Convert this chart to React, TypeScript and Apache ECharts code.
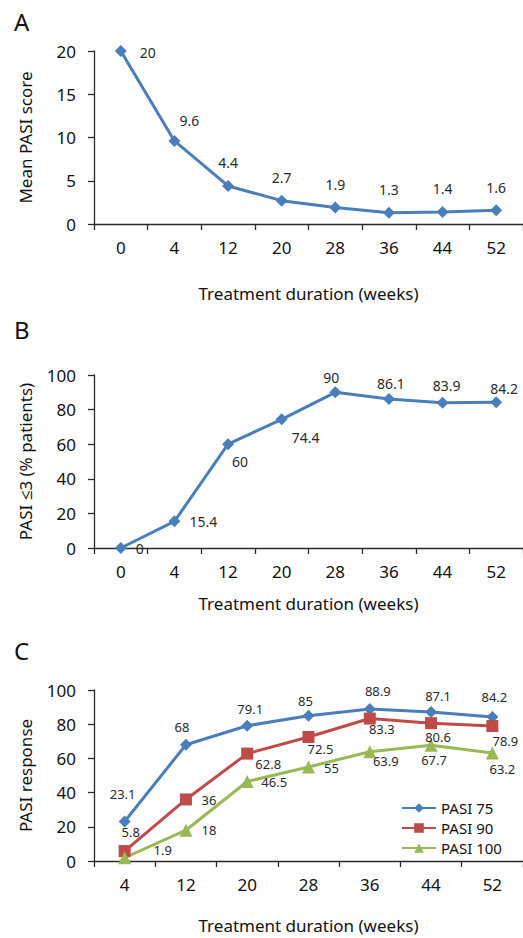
import React, { useEffect, useRef } from "react";
import * as echarts from "echarts";

const weeksAB = ["0", "4", "12", "20", "28", "36", "44", "52"];
const meanPasi = [20, 9.6, 4.4, 2.7, 1.9, 1.3, 1.4, 1.6];
const pasiLe3 = [0, 15.4, 60, 74.4, 90, 86.1, 83.9, 84.2];
const weeksC = ["4", "12", "20", "28", "36", "44", "52"];
const pasi75 = [23.1, 68, 79.1, 85, 88.9, 87.1, 84.2];
const pasi90 = [5.8, 36, 62.8, 72.5, 83.3, 80.6, 78.9];
const pasi100 = [1.9, 18, 46.5, 55, 63.9, 67.7, 63.2];

// label centre offsets from each point (px)
const offA = [[27, 1], [15, -20], [0, -23], [0, -23], [0, -23], [0, -23], [0, -23], [0, -23]];
const offB = [[19, 0], [29, 0], [12, 17], [24, 18], [-4, -15], [2, -16], [4, -17], [8, -14]];
const off75 = [[-2, -27], [-4, -18], [3, -17], [-3, -15], [8, -18], [7, -16], [2, -20]];
const off90 = [[6, -19], [23, 1], [21, 10], [12, 12], [12, 10], [7, 14], [13, 15]];
const off100 = [[38, -8], [23, 0], [27, 1], [23, 1], [16, 9], [3, 15], [10, 16]];

const FONT = "'Noto Sans', 'Open Sans', sans-serif";
const BLUE = "#4A7EBB";
const RED = "#BE4B48";
const GREEN = "#98B954";
const AXIS = "#2a2a2a";
const TEXT = "#111";

function mkData(vals: number[], offs: number[][]) {
  return vals.map((v, i) => ({ value: v, label: { offset: offs[i] } }));
}

function xAx(gi: number, cats: string[], nameGap: number) {
  return {
    type: "category",
    gridIndex: gi,
    data: cats,
    boundaryGap: true,
    axisLine: { lineStyle: { color: AXIS, width: 1.3 } },
    axisTick: { show: true, length: 6, lineStyle: { color: AXIS, width: 1.3 } },
    axisLabel: { interval: 0, margin: 15, fontSize: 17, color: TEXT, fontFamily: FONT },
    name: "Treatment duration (weeks)",
    nameLocation: "middle",
    nameGap,
    nameTextStyle: { fontSize: 17, color: TEXT, fontFamily: FONT },
  };
}

function yAx(gi: number, max: number, interval: number, name: string) {
  return {
    type: "value",
    gridIndex: gi,
    min: 0,
    max,
    interval,
    splitLine: { show: false },
    axisLine: { show: true, lineStyle: { color: AXIS, width: 1.3 } },
    axisTick: { show: true, length: 6, lineStyle: { color: AXIS, width: 1.3 } },
    axisLabel: { margin: 18, fontSize: 17, color: TEXT, fontFamily: FONT },
    name,
    nameLocation: "middle",
    nameGap: 60,
    nameTextStyle: { fontSize: 17, color: TEXT, fontFamily: FONT },
  };
}

function lineSeries(
  name: string,
  xi: number,
  data: any[],
  color: string,
  symbol: string,
  symbolSize: number,
  labelSize: number
) {
  return {
    type: "line",
    name,
    xAxisIndex: xi,
    yAxisIndex: xi,
    data,
    color,
    symbol,
    symbolSize,
    lineStyle: { color, width: 3 },
    itemStyle: { color },
    label: {
      show: true,
      position: "inside",
      color: "#2a2a2a",
      fontSize: labelSize,
      fontFamily: FONT,
    },
  };
}

export default function App() {
  const ref = useRef<HTMLDivElement>(null);
  useEffect(() => {
    document.body.style.margin = "0";
    const chart = echarts.init(ref.current!, null, { renderer: "svg" });
    chart.setOption({
      animation: false,
      backgroundColor: "#fff",
      textStyle: { fontFamily: FONT },
      grid: [
        { left: 94, right: -9, top: 51, height: 173 },
        { left: 94, right: -5, top: 375, height: 173 },
        { left: 94, right: 0, top: 690, height: 171 },
      ],
      xAxis: [xAx(0, weeksAB, 61), xAx(1, weeksAB, 47), xAx(2, weeksC, 56)],
      yAxis: [
        yAx(0, 20, 5, "Mean PASI score"),
        yAx(1, 100, 20, "PASI ≤3 (% patients)"),
        yAx(2, 100, 20, "PASI response"),
      ],
      legend: {
        orient: "vertical",
        left: 396,
        top: 793,
        itemWidth: 34,
        itemHeight: 12,
        itemGap: 0,
        data: ["PASI 75", "PASI 90", "PASI 100"],
        textStyle: { fontSize: 15, lineHeight: 20, color: TEXT, fontFamily: FONT },
      },
      graphic: [
        { type: "text", left: 14, top: 9, style: { text: "A", fontSize: 24, fill: TEXT, fontFamily: FONT } },
        { type: "text", left: 14, top: 317, style: { text: "B", fontSize: 24, fill: TEXT, fontFamily: FONT } },
        { type: "text", left: 14, top: 638, style: { text: "C", fontSize: 24, fill: TEXT, fontFamily: FONT } },
      ],
      series: [
        lineSeries("Mean PASI", 0, mkData(meanPasi, offA), BLUE, "diamond", 12, 14),
        lineSeries("PASI ≤3", 1, mkData(pasiLe3, offB), BLUE, "diamond", 12, 14),
        lineSeries("PASI 75", 2, mkData(pasi75, off75), BLUE, "diamond", 12, 13),
        lineSeries("PASI 90", 2, mkData(pasi90, off90), RED, "rect", 12, 13),
        lineSeries("PASI 100", 2, mkData(pasi100, off100), GREEN, "triangle", 13, 13),
      ],
    });
    return () => chart.dispose();
  }, []);
  return <div ref={ref} style={{ width: 523, height: 938 }} />;
}
